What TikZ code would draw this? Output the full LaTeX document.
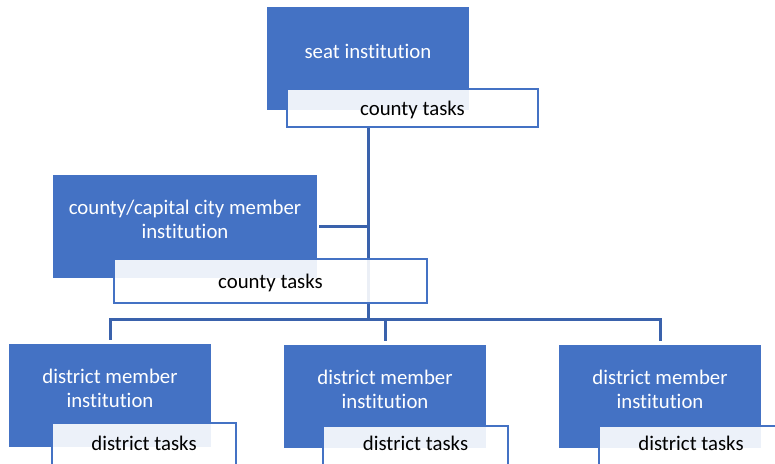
\documentclass[tikz,border=0pt]{standalone}
\usepackage{fontspec}
\setmainfont{Carlito}[Ligatures=NoCommon]
\usepackage{xcolor}
\definecolor{orgblue}{HTML}{4472C4}
\definecolor{linkblue}{HTML}{3A62AC}
\pgfdeclarelayer{background}
\pgfsetlayers{background,main}

\begin{document}
\begin{tikzpicture}[x=1pt, y=-1pt,
    every node/.style={inner sep=0pt, font=\fontsize{20.8}{23.5}\selectfont},
    unit/.style={fill=orgblue, minimum width=202pt, minimum height=103pt},
    unitname/.style={text=white, align=center, yshift=7pt},
    tasks/.style={draw=orgblue, line width=2.2pt, fill=white, fill opacity=0.9, text opacity=1, text=black, text height=19pt, text depth=4.4pt},
    link/.style={draw=linkblue, line width=3pt}]
            \useasboundingbox (0,0) rectangle (775,463);
            \clip (0,0) rectangle (775,463);
            \node[unit, label={[unitname]center:seat institution}] (seat) at (368,58.5) {};
            \node[tasks, minimum width=251pt, minimum height=38pt] (seattasks) at (412.5,108) {county tasks};
            \node[unit, minimum width=264pt, label={[unitname]center:{county/capital city member\\institution}}] (member) at (185,226.5) {};
            \node[tasks, minimum width=313pt, minimum height=44pt] (membertasks) at (270.5,281) {county tasks};
            \node[unit, label={[unitname]center:{district member\\institution}}] (district1) at (110,395.5) {};
            \node[unit, label={[unitname]center:{district member\\institution}}] (district2) at (385,396.5) {};
            \node[unit, label={[unitname]center:{district member\\institution}}] (district3) at (660,396.5) {};
            \node[tasks, minimum width=184pt, minimum height=42pt, text height=18pt] (districttasks1) at (144,444) {district tasks};
            \node[tasks, minimum width=185pt, minimum height=40pt, text height=14pt, text depth=5.6pt] (districttasks2) at (415.5,446) {district tasks};
            \node[tasks, minimum width=184pt, minimum height=40pt, text height=14pt, text depth=5.6pt] (districttasks3) at (691,446) {district tasks};
            \coordinate (bus) at (368,319);
            \begin{pgfonlayer}{background}
            \draw[link] (seat.south |- seattasks.south) -- (bus);
            \draw[link, shorten <=2pt] (member.east) -- (member.east -| bus);
            \draw[link, shorten <=4pt, shorten >=4pt] (district1.north) -- (district1.north |- bus) -- (district3.north |- bus) -- (district3.north);
            \draw[link, shorten >=4pt] (district2.north |- bus) -- (district2.north);
            \end{pgfonlayer}
        \end{tikzpicture}
\end{document}
